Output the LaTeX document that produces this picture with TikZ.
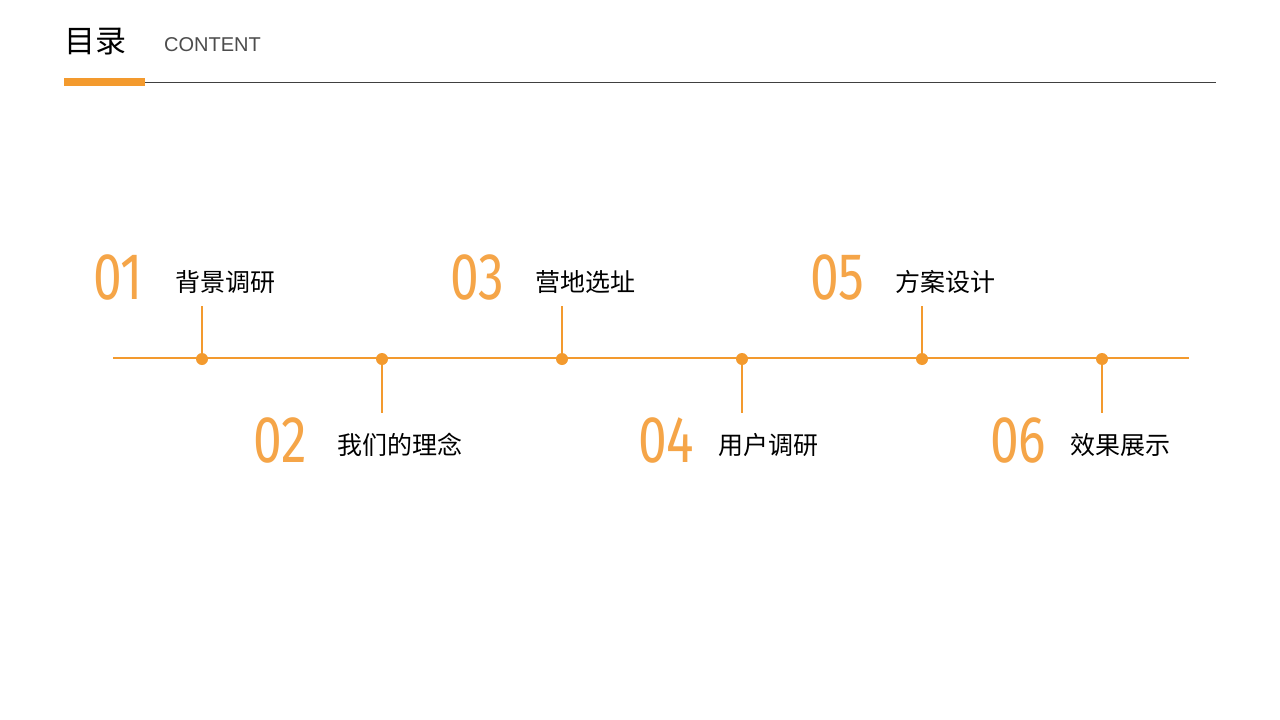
\documentclass[tikz,border=0pt]{standalone}
\usepackage{fontspec}
\setmainfont{Noto Sans CJK SC}
\newfontfamily\cjk{Noto Sans CJK SC}
\newfontfamily\numf{Fira Sans}
\definecolor{org}{HTML}{F39A2E}
\definecolor{numa}{HTML}{F5A548}
\begin{document}
\begin{tikzpicture}[x=1pt,y=-1pt,
 lab/.style={anchor=west,font=\cjk\fontsize{25}{25}\selectfont,inner sep=0},
 num/.style={anchor=west,inner sep=0,font=\numf\fontsize{66}{66}\selectfont,xscale=0.78},
 dot/.style={circle,fill=org,inner sep=0,minimum size=12pt},
 stem/.style={org,line width=2pt}]
\useasboundingbox (0,0) rectangle (1280,720);
\fill[white] (0,0) rectangle (1280,720);
\node[anchor=west,inner sep=0,font=\cjk\fontsize{31}{31}\selectfont] (t) at (64,42) {目录};
\node[anchor=west,inner sep=0,font=\fontspec{Liberation Sans}\fontsize{20}{20}\selectfont,text=black!70] (c) at (164,45) {CONTENT};
\fill[org] (64,78) rectangle (145,86);
\draw[black!75,line width=0.8pt] (145,82) -- (1216,82);
\draw[org,line width=2.2pt] (113,358) coordinate (ls) -- (1189,358) coordinate (le);
\foreach \i/\x/\n/\l/\nx/\lx in {1/202/01/背景调研/93/175,3/562/03/营地选址/450/535,5/922/05/方案设计/810/895}{
 \node[dot] (d\i) at (\x,359) {};
 \coordinate (s\i) at (\x,306);
 \draw[stem] (s\i) -- (d\i);
 \node[num] (n\i) at (\nx,277) {\textcolor{numa}{\n}};
 \node[lab] (l\i) at (\lx,282) {\l};
}
\foreach \i/\x/\n/\l/\nx/\lx in {2/382/02/我们的理念/253/337,4/742/04/用户调研/638/718,6/1102/06/效果展示/990/1070}{
 \node[dot] (d\i) at (\x,359) {};
 \coordinate (s\i) at (\x,413);
 \draw[stem] (d\i) -- (s\i);
 \node[num] (n\i) at (\nx,440) {\textcolor{numa}{\n}};
 \node[lab] (l\i) at (\lx,445) {\l};
}
% fade overlay on second digit
\foreach \i in {1,...,6}{
 \shade[left color=white,right color=white,middle color=white,opacity=0] (n\i.south east) rectangle (n\i.north east);
}
\end{tikzpicture}
\end{document}
